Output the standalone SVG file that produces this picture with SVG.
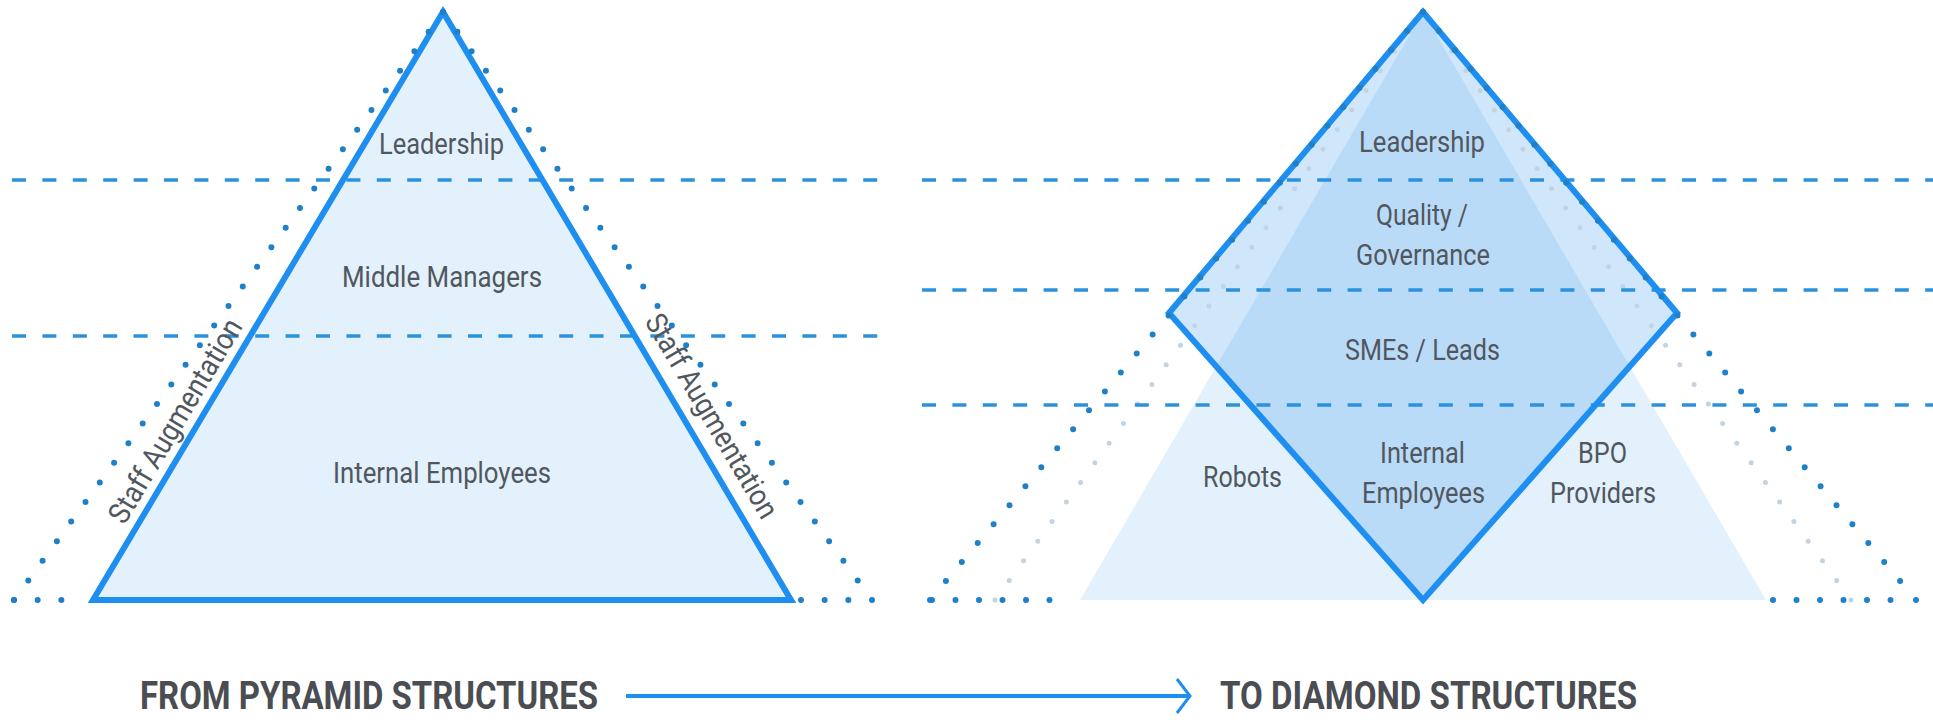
<svg xmlns="http://www.w3.org/2000/svg" width="1933" height="720" viewBox="0 0 1933 720">
  <style>
    .lbl { font-family: Roboto, "Liberation Sans", Arial, sans-serif; font-size: 30px; fill: #51575e; }
    .cap { font-family: Roboto, "Liberation Sans", Arial, sans-serif; font-size: 39px; font-weight: 700; fill: #4a4d52; }
    .edge { fill: none; stroke: #1e8ef0; stroke-width: 6; stroke-linejoin: miter; }
    .dash { fill: none; stroke: #2b91dc; stroke-width: 3.5; stroke-dasharray: 14 16.4; }
    .dot { fill: none; stroke: #1f80c8; stroke-width: 6; stroke-linecap: round; }
    .fdot { fill: none; stroke: #c3d3e2; stroke-width: 5; stroke-linecap: round; }
  </style>
  <defs>
    <clipPath id="diamondClip">
      <polygon points="1423,12 1677,313 1423,600 1169,313"/>
    </clipPath>
  </defs>
  <rect width="1933" height="720" fill="#ffffff"/>

  <!-- fills -->
  <g id="fills">
    <polygon id="left-fill" points="443,12 93,600 791,600" fill="#e3f1fc"/>
    <polygon id="right-pale" points="1423,12 1080,600 1766,600" fill="#e3f1fc"/>
    <polygon id="diamond-fill" points="1423,12 1677,313 1423,600 1169,313" fill="#d0e7fb"/>
    <polygon points="1423,12 1080,600 1766,600" fill="#b9dbf8" clip-path="url(#diamondClip)"/>
  </g>

  <!-- faint dotted lines (right) -->
  <g id="faint-dots">
    <path class="fdot" d="M995,600 L1423,12" stroke-dasharray="0 24.24"/>
    <path class="fdot" d="M1851,600 L1423,12" stroke-dasharray="0 24.24"/>
  </g>

  <!-- horizontal dashed guides -->
  <g id="guides">
    <line class="dash" x1="12" y1="180" x2="882" y2="180"/>
    <line class="dash" x1="12" y1="336" x2="882" y2="336"/>
    <line class="dash" x1="922" y1="180" x2="1933" y2="180"/>
    <line class="dash" x1="922" y1="290" x2="1933" y2="290"/>
    <line class="dash" x1="922" y1="405" x2="1933" y2="405"/>
  </g>

  <!-- left pyramid -->
  <g id="pyramid">
    <polygon class="edge" points="443,12 93,600 791,600"/>
    <path class="dot" d="M14,600 L443,12" stroke-dasharray="0 24.26"/>
    <path class="dot" d="M872,600 L443,12" stroke-dasharray="0 24.26"/>
    <path class="dot" d="M14,600 L85,600" stroke-dasharray="0 23.67"/>
    <path class="dot" d="M801,600 L872,600" stroke-dasharray="0 23.67"/>
    <text class="lbl" x="379" y="154" textLength="125" lengthAdjust="spacingAndGlyphs">Leadership</text>
    <text class="lbl" x="342" y="287" textLength="200" lengthAdjust="spacingAndGlyphs">Middle Managers</text>
    <text class="lbl" x="333" y="483" textLength="218" lengthAdjust="spacingAndGlyphs">Internal Employees</text>
    <text class="lbl" text-anchor="middle" transform="translate(184,426) rotate(-59.2)" textLength="232" lengthAdjust="spacingAndGlyphs">Staff Augmentation</text>
    <text class="lbl" text-anchor="middle" transform="translate(703,421) rotate(59.4)" textLength="232" lengthAdjust="spacingAndGlyphs">Staff Augmentation</text>
  </g>

  <!-- right diamond -->
  <g id="diamond">
    <polygon class="edge" points="1423,12 1677,313 1423,600 1169,313"/>
    <path class="dot" d="M930,600 L1423,12" stroke-dasharray="0 24.75"/>
    <path class="dot" d="M1916,600 L1423,12" stroke-dasharray="0 24.75"/>
    <path class="dot" d="M932,600 L1073,600" stroke-dasharray="0 23.5"/>
    <path class="dot" d="M1773,600 L1914,600" stroke-dasharray="0 23.5"/>
    <text class="lbl" x="1359" y="152" textLength="126" lengthAdjust="spacingAndGlyphs">Leadership</text>
    <text class="lbl" x="1376" y="225" textLength="92" lengthAdjust="spacingAndGlyphs">Quality /</text>
    <text class="lbl" x="1356" y="265" textLength="134" lengthAdjust="spacingAndGlyphs">Governance</text>
    <text class="lbl" x="1345" y="360" textLength="155" lengthAdjust="spacingAndGlyphs">SMEs / Leads</text>
    <text class="lbl" x="1380" y="463" textLength="85" lengthAdjust="spacingAndGlyphs">Internal</text>
    <text class="lbl" x="1362" y="503" textLength="123" lengthAdjust="spacingAndGlyphs">Employees</text>
    <text class="lbl" x="1203" y="487" textLength="79" lengthAdjust="spacingAndGlyphs">Robots</text>
    <text class="lbl" x="1578" y="463" textLength="49" lengthAdjust="spacingAndGlyphs">BPO</text>
    <text class="lbl" x="1550" y="503" textLength="106" lengthAdjust="spacingAndGlyphs">Providers</text>
  </g>

  <!-- captions -->
  <g id="caption-from">
    <text class="cap" x="140" y="709" textLength="458" lengthAdjust="spacingAndGlyphs">FROM PYRAMID STRUCTURES</text>
  </g>
  <g id="caption-to">
    <text class="cap" x="1220" y="709" textLength="417" lengthAdjust="spacingAndGlyphs">TO DIAMOND STRUCTURES</text>
  </g>

  <!-- connectors -->
  <g id="connectors">
    <line x1="626" y1="696" x2="1188" y2="696" stroke="#1e8ef0" stroke-width="4"/>
    <polyline points="1177,679 1190,696 1177,713" fill="none" stroke="#1e8ef0" stroke-width="3" stroke-linejoin="miter"/>
  </g>
</svg>
